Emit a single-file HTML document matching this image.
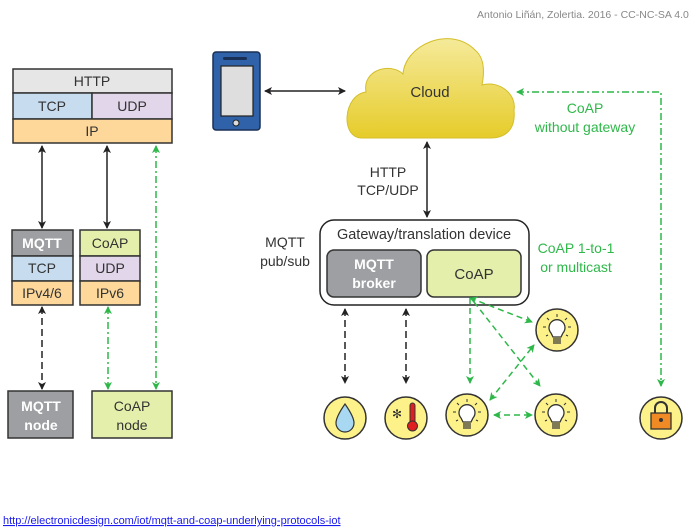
<!DOCTYPE html>
<html><head><meta charset="utf-8"><style>
html,body{margin:0;padding:0;background:#fff;}
svg{display:block;font-family:"Liberation Sans",sans-serif;}
</style></head><body>
<svg width="699" height="528" viewBox="0 0 699 528" xmlns="http://www.w3.org/2000/svg">
<defs>
<marker id="ab" markerWidth="8" markerHeight="8" refX="7" refY="4" orient="auto-start-reverse" markerUnits="userSpaceOnUse"><path d="M0,0 L8,4 L0,8 L2,4 Z" fill="#222"/></marker>
<marker id="ag" markerWidth="8" markerHeight="8" refX="7" refY="4" orient="auto-start-reverse" markerUnits="userSpaceOnUse"><path d="M0,0 L8,4 L0,8 L2,4 Z" fill="#2fb84a"/></marker>
<linearGradient id="cg" x1="0" y1="0" x2="0" y2="1"><stop offset="0" stop-color="#f5ea9a"/><stop offset="1" stop-color="#e6cc2a"/></linearGradient>
<g id="bulb"><circle r="21" fill="#fdf28a" stroke="#333" stroke-width="1.5"/><path d="M-6,3 A8,8 0 1 1 6,3 L4,7 L-4,7 Z" fill="#fff" stroke="#333" stroke-width="1.3"/><path d="M-4,9H4M-4,11H4M-4,13H4" stroke="#333" stroke-width="1.2"/><path d="M0,-16V-13M-10,-12l2,2M10,-12l-2,2M-14,-3h3M14,-3h-3M-11,6l2,-1M11,6l-2,-1" stroke="#333" stroke-width="1"/></g>
</defs>
<text x="477" y="18" font-size="10.5" fill="#888">Antonio Liñán, Zolertia.  2016 - CC-NC-SA 4.0</text>
<rect x="13" y="69" width="159" height="24" fill="#e6e6e6" stroke="#333" stroke-width="1.5"/>
<rect x="13" y="93" width="79" height="26" fill="#c8dcf0" stroke="#333" stroke-width="1.5"/>
<rect x="92" y="93" width="80" height="26" fill="#e2d6ea" stroke="#333" stroke-width="1.5"/>
<rect x="13" y="119" width="159" height="24" fill="#fdd89a" stroke="#333" stroke-width="1.5"/>
<g font-size="14" fill="#333" text-anchor="middle">
<text x="92" y="86">HTTP</text><text x="52" y="111">TCP</text><text x="132" y="111">UDP</text><text x="92" y="136">IP</text>
</g>
<rect x="12" y="230" width="61" height="26" fill="#9d9fa2" stroke="#333" stroke-width="1.5"/>
<rect x="12" y="256" width="61" height="25" fill="#c8dcf0" stroke="#333" stroke-width="1.5"/>
<rect x="12" y="281" width="61" height="24" fill="#fdd89a" stroke="#333" stroke-width="1.5"/>
<rect x="80" y="230" width="60" height="26" fill="#e3efaa" stroke="#333" stroke-width="1.5"/>
<rect x="80" y="256" width="60" height="25" fill="#e2d6ea" stroke="#333" stroke-width="1.5"/>
<rect x="80" y="281" width="60" height="24" fill="#fdd89a" stroke="#333" stroke-width="1.5"/>
<g font-size="14" text-anchor="middle" fill="#333">
<text x="42" y="248" fill="#fff" font-weight="bold">MQTT</text><text x="42" y="273">TCP</text><text x="42" y="298">IPv4/6</text>
<text x="110" y="248">CoAP</text><text x="110" y="273">UDP</text><text x="110" y="298">IPv6</text>
</g>
<rect x="8" y="391" width="65" height="47" fill="#9d9fa2" stroke="#333" stroke-width="1.5"/>
<rect x="92" y="391" width="80" height="47" fill="#e3efaa" stroke="#333" stroke-width="1.5"/>
<g font-size="14" text-anchor="middle">
<text x="41" y="411" fill="#fff" font-weight="bold">MQTT</text><text x="41" y="430" fill="#fff" font-weight="bold">node</text>
<text x="132" y="411" fill="#333">CoAP</text><text x="132" y="430" fill="#333">node</text>
</g>
<line x1="42" y1="146" x2="42" y2="228" stroke="#222" stroke-width="1.5" marker-start="url(#ab)" marker-end="url(#ab)"/>
<line x1="107" y1="146" x2="107" y2="228" stroke="#222" stroke-width="1.5" marker-start="url(#ab)" marker-end="url(#ab)"/>
<line x1="156" y1="146" x2="156" y2="389" stroke="#2fb84a" stroke-width="1.5" stroke-dasharray="7,3,2,3" marker-start="url(#ag)" marker-end="url(#ag)"/>
<line x1="42" y1="307" x2="42" y2="389" stroke="#222" stroke-width="1.5" stroke-dasharray="7,4" marker-start="url(#ab)" marker-end="url(#ab)"/>
<line x1="108" y1="307" x2="108" y2="389" stroke="#2fb84a" stroke-width="1.5" stroke-dasharray="7,3,2,3" marker-start="url(#ag)" marker-end="url(#ag)"/>
<rect x="213" y="52" width="47" height="78" rx="3" fill="#2f62a8" stroke="#1a2f55" stroke-width="1.5"/>
<rect x="221" y="66" width="32" height="50" fill="#dedede" stroke="#222" stroke-width="1.2"/>
<rect x="223" y="57" width="24" height="3" rx="1.5" fill="#1a2f55"/>
<circle cx="236" cy="123" r="3" fill="#ddd" stroke="#222"/>
<line x1="265" y1="91" x2="345" y2="91" stroke="#222" stroke-width="1.5" marker-start="url(#ab)" marker-end="url(#ab)"/>
<path d="M362,138 C340,138 343,95 366,92 C362,70 390,62 403,74 C405,45 450,25 475,50 C487,60 483,80 482,85 C500,80 517,95 514,110 C516,130 505,138 490,138 Z" fill="url(#cg)" stroke="#d4be2a" stroke-width="1"/>
<text x="430" y="97" font-size="15" text-anchor="middle" fill="#333">Cloud</text>
<line x1="427" y1="142" x2="427" y2="217" stroke="#222" stroke-width="1.5" marker-start="url(#ab)" marker-end="url(#ab)"/>
<text x="388" y="177" font-size="14" text-anchor="middle" fill="#333">HTTP</text>
<text x="388" y="195" font-size="14" text-anchor="middle" fill="#333">TCP/UDP</text>
<text x="285" y="247" font-size="14" text-anchor="middle" fill="#333">MQTT</text>
<text x="285" y="266" font-size="14" text-anchor="middle" fill="#333">pub/sub</text>
<rect x="320" y="220" width="209" height="85" rx="14" fill="#fff" stroke="#222" stroke-width="1.5"/>
<text x="424" y="239" font-size="14.5" text-anchor="middle" fill="#333">Gateway/translation device</text>
<rect x="327" y="250" width="94" height="47" rx="7" fill="#9d9fa2" stroke="#333" stroke-width="1.5"/>
<rect x="427" y="250" width="94" height="47" rx="7" fill="#e3efaa" stroke="#333" stroke-width="1.5"/>
<text x="374" y="269" font-size="14" text-anchor="middle" fill="#fff" font-weight="bold">MQTT</text>
<text x="374" y="288" font-size="14" text-anchor="middle" fill="#fff" font-weight="bold">broker</text>
<text x="474" y="279" font-size="15" text-anchor="middle" fill="#333">CoAP</text>
<g font-size="14" fill="#2fb84a" text-anchor="middle">
<text x="576" y="253">CoAP 1-to-1</text><text x="576" y="272">or multicast</text>
<text x="585" y="113">CoAP</text><text x="585" y="132">without gateway</text>
</g>
<path d="M517,92 H661 V386" fill="none" stroke="#2fb84a" stroke-width="1.5" stroke-dasharray="7,3,2,3" marker-start="url(#ag)" marker-end="url(#ag)"/>
<line x1="345" y1="309" x2="345" y2="383" stroke="#222" stroke-width="1.5" stroke-dasharray="7,4" marker-start="url(#ab)" marker-end="url(#ab)"/>
<line x1="406" y1="309" x2="406" y2="383" stroke="#222" stroke-width="1.5" stroke-dasharray="7,4" marker-start="url(#ab)" marker-end="url(#ab)"/>
<g stroke="#2fb84a" stroke-width="1.5" stroke-dasharray="6,4" fill="none">
<line x1="470" y1="298" x2="470" y2="383" marker-end="url(#ag)"/>
<line x1="470" y1="298" x2="532" y2="322" marker-start="url(#ag)" marker-end="url(#ag)"/>
<line x1="474" y1="302" x2="540" y2="386" marker-end="url(#ag)"/>
<line x1="490" y1="400" x2="534" y2="345" marker-start="url(#ag)" marker-end="url(#ag)"/>
<line x1="494" y1="415" x2="532" y2="415" marker-start="url(#ag)" marker-end="url(#ag)"/>
</g>
<circle cx="345" cy="418" r="21" fill="#fdf28a" stroke="#333" stroke-width="1.5"/>
<path d="M345,404 C338,414 336,419 336,423 A9,9 0 0 0 354,423 C354,419 352,414 345,404 Z" fill="#a9d8f2" stroke="#333" stroke-width="1.2"/>
<circle cx="406" cy="418" r="21" fill="#fdf28a" stroke="#333" stroke-width="1.5"/>
<rect x="410" y="403" width="5" height="20" rx="2.5" fill="#e02020" stroke="#333"/>
<circle cx="412.5" cy="426" r="5" fill="#e02020" stroke="#333"/>
<text x="397" y="418" font-size="12" text-anchor="middle" fill="#333" font-family="DejaVu Sans,sans-serif">✻</text>
<use href="#bulb" x="467" y="415"/>
<use href="#bulb" x="556" y="415"/>
<use href="#bulb" x="557" y="330"/>
<circle cx="661" cy="418" r="21" fill="#fdf28a" stroke="#333" stroke-width="1.5"/>
<path d="M655,414 V408 A6,6 0 0 1 667,408 V414" fill="none" stroke="#333" stroke-width="2"/>
<rect x="651" y="413" width="20" height="16" fill="#f08a24" stroke="#333" stroke-width="1.3"/>
<circle cx="661" cy="420" r="2" fill="#333"/>
<text x="3" y="524" font-size="11" fill="#1a1aee" text-decoration="underline">http://electronicdesign.com/iot/mqtt-and-coap-underlying-protocols-iot</text>
</svg>
</body></html>
